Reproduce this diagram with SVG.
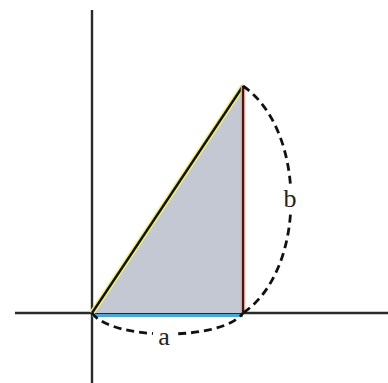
<svg xmlns="http://www.w3.org/2000/svg" width="388" height="383" viewBox="0 0 388 383">
<style>
.axis{stroke:#2a2a2a;stroke-width:2.4;fill:none}
.dash{stroke:#111;stroke-width:2.8;fill:none;stroke-dasharray:8,5}
.lbl{font-family:"Liberation Serif","DejaVu Serif",serif;font-size:26px;fill:#222;text-anchor:middle}
</style>
<rect width="388" height="383" fill="#fff"/>
<g id="axes">
<line class="axis" x1="92" y1="10" x2="92" y2="383"/>
<line class="axis" x1="15" y1="313" x2="388" y2="313"/>
</g>
<g id="triangle">
<polygon points="92,313 243,86 243,313" fill="#c3c8d2"/>
<line x1="92" y1="313" x2="243" y2="86" stroke="#f0ee80" stroke-width="5.5"/>
<line x1="92" y1="313" x2="243" y2="86" stroke="#111" stroke-width="2.4"/>
<line x1="243" y1="86" x2="243" y2="313" stroke="#e6a090" stroke-width="4.5"/>
<line x1="243" y1="86" x2="243" y2="313" stroke="#3a1a1a" stroke-width="2"/>
<line x1="92" y1="315.5" x2="243" y2="315.5" stroke="#4aa8d0" stroke-width="3"/>
</g>
<g id="connectors">
<path class="dash" d="M243,86 C307,130 307,270 243,313"/>
<path class="dash" d="M92,313 C112,341 223,341 243,313"/>
</g>
<g id="label-b">
<rect x="280" y="184" width="20" height="26" fill="#fff"/>
<text class="lbl" x="290" y="207">b</text>
</g>
<g id="label-a">
<rect x="153" y="324" width="22" height="22" fill="#fff"/>
<text class="lbl" x="164" y="345">a</text>
</g>
</svg>
